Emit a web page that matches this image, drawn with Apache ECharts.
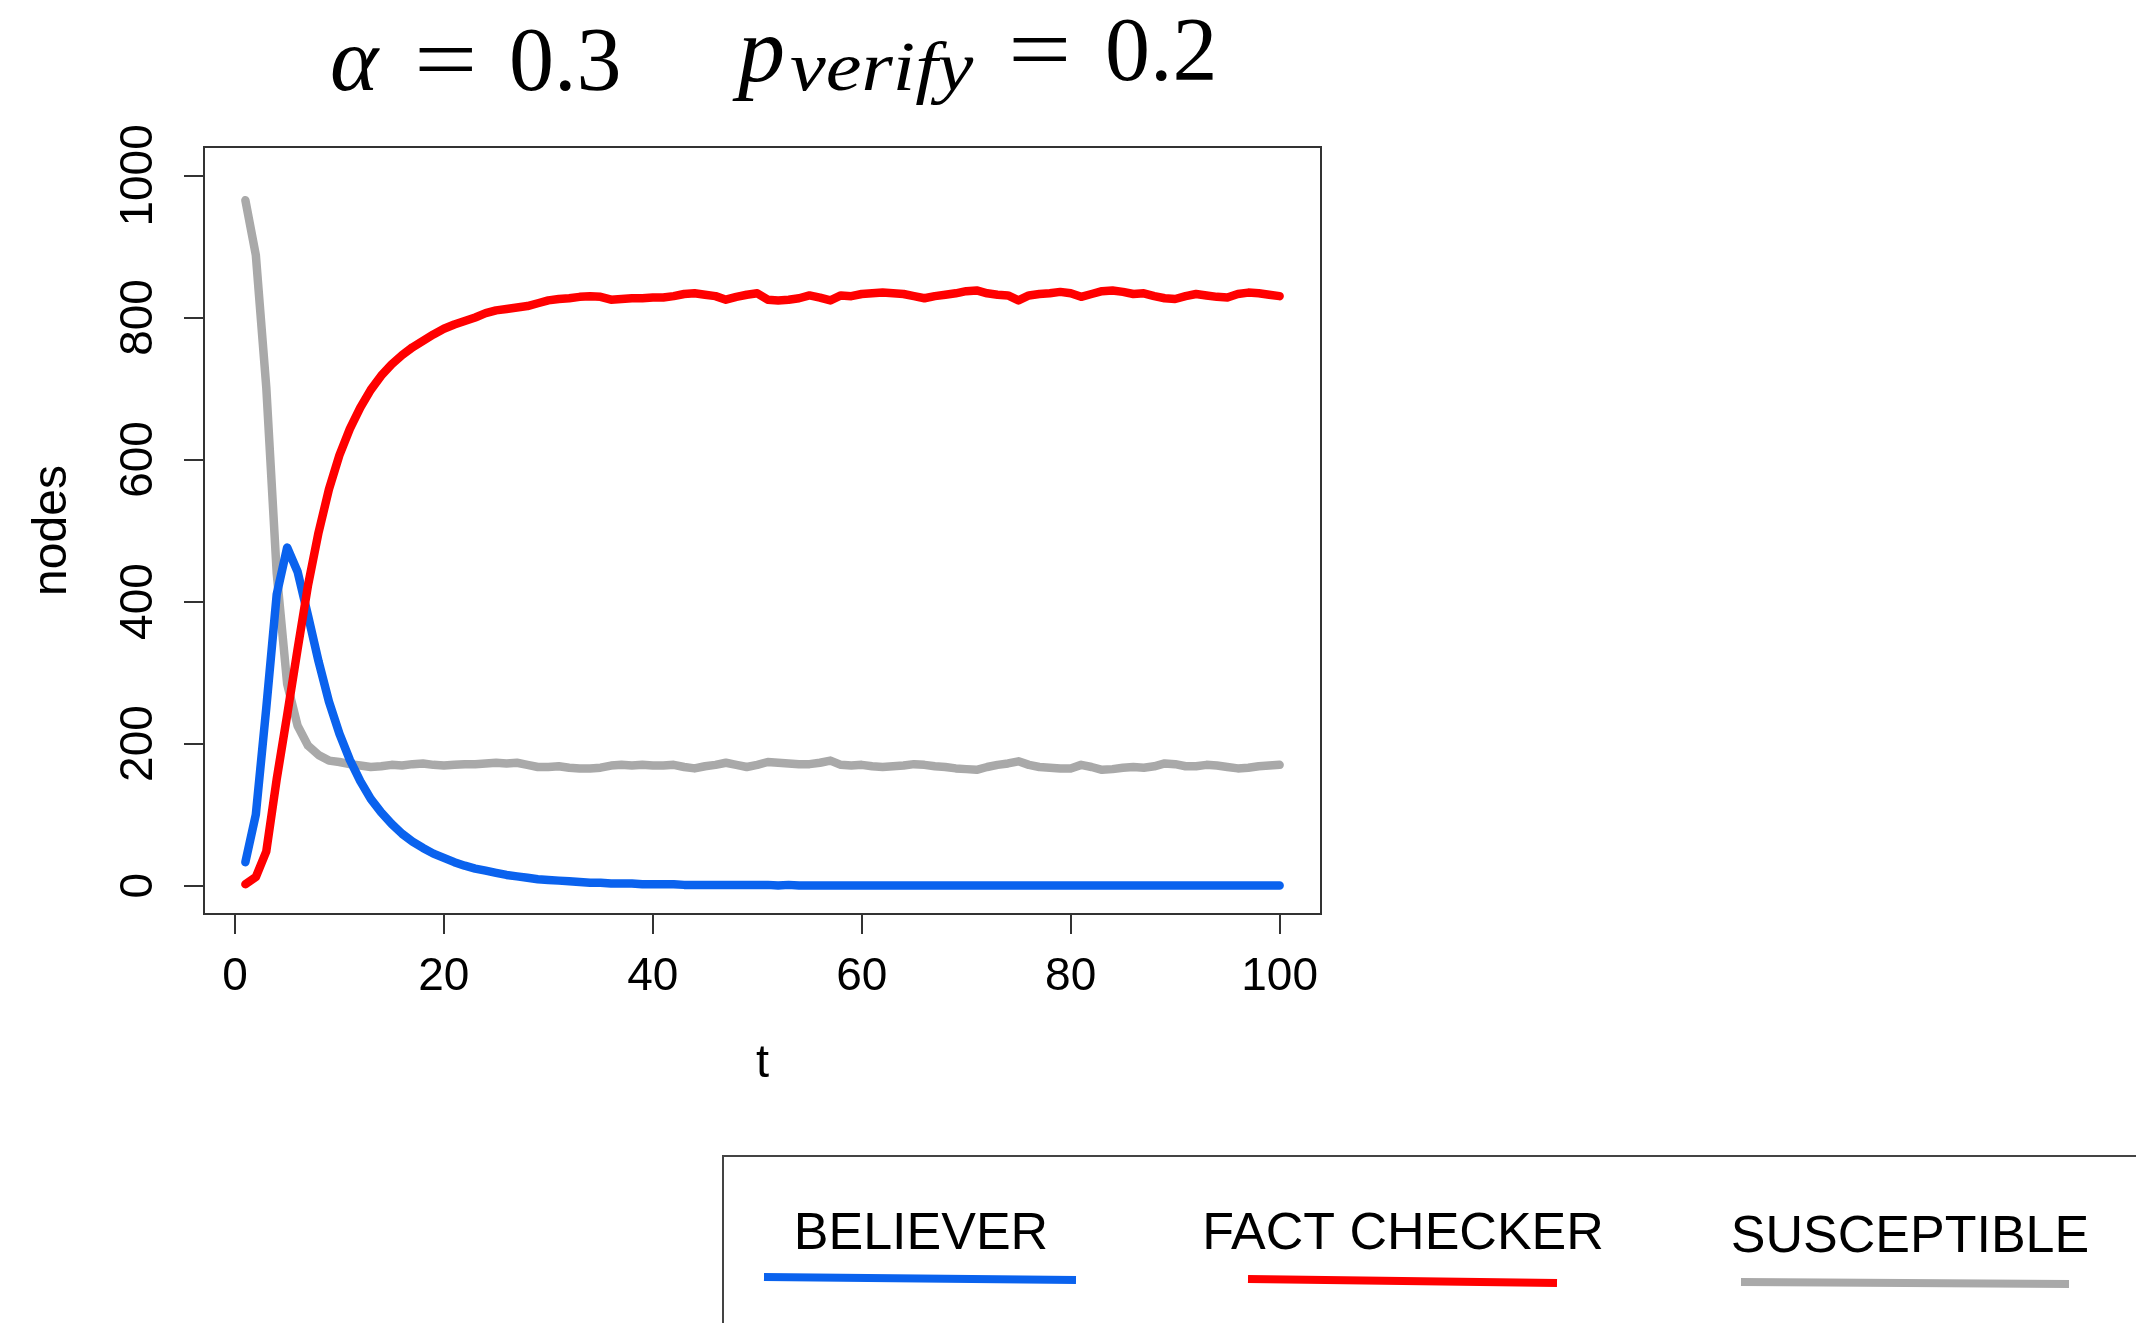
<!DOCTYPE html>
<html>
<head>
<meta charset="utf-8">
<script src="https://cdn.jsdelivr.net/npm/echarts@6/dist/echarts.min.js"></script>
<style>
  html, body { margin: 0; padding: 0; background: #ffffff; }
  #chart { width: 2136px; height: 1323px; }
</style>
</head>
<body>
<div id="chart"></div>
<script>
// time steps
const timeSteps = Array.from({ length: 100 }, (_, i) => i + 1);

// BELIEVER (blue)
const believer = [
  33, 100, 250, 410, 476, 442, 380, 316, 259, 214,
  177, 147, 122, 103, 87, 73, 62, 53, 45, 39,
  33, 28, 24, 21, 18, 15, 13, 11, 9, 8,
  7, 6, 5, 4, 4, 3, 3, 3, 2, 2,
  2, 2, 1, 1, 1, 1, 1, 1, 1, 1,
  1, 0, 1, 0, 0, 0, 0, 0, 0, 0,
  0, 0, 0, 0, 0, 0, 0, 0, 0, 0,
  0, 0, 0, 0, 0, 0, 0, 0, 0, 0,
  0, 0, 0, 0, 0, 0, 0, 0, 0, 0,
  0, 0, 0, 0, 0, 0, 0, 0, 0, 0
];

// FACT CHECKER (red)
const factChecker = [
  2, 12, 48, 150, 240, 333, 423, 497, 558, 606,
  643, 673, 698, 718, 734, 747, 758, 767, 776, 784,
  790, 795, 800, 806, 810, 812, 814, 816, 820, 824,
  826, 827, 829, 830, 829, 825, 826, 827, 827, 828,
  828, 830, 833, 834, 832, 830, 825, 829, 832, 834,
  825, 824, 825, 827, 831, 828, 824, 831, 830, 833,
  834, 835, 834, 833, 830, 827, 830, 832, 834, 837,
  838, 834, 832, 831, 824, 831, 833, 834, 836, 834,
  829, 833, 837, 838, 836, 833, 834, 830, 827, 826,
  830, 833, 831, 829, 828, 833, 835, 834, 832, 830
];

// SUSCEPTIBLE (gray)
const susceptible = [
  965, 888, 702, 440, 284, 225, 197, 184, 176, 174,
  171, 169, 167, 168, 170, 169, 171, 172, 170, 169,
  170, 171, 171, 172, 173, 172, 173, 170, 167, 167,
  168, 166, 165, 165, 166, 169, 170, 169, 170, 169,
  169, 170, 167, 165, 168, 170, 173, 170, 167, 170,
  174, 173, 172, 171, 171, 173, 176, 170, 169, 170,
  168, 167, 168, 169, 171, 170, 168, 167, 165, 164,
  163, 167, 170, 172, 175, 170, 167, 166, 165, 165,
  170, 167, 163, 164, 166, 167, 166, 168, 172, 171,
  168, 168, 170, 169, 167, 165, 166, 168, 169, 170
];

const xTicks = [0, 20, 40, 60, 80, 100];
const yTicks = [0, 200, 400, 600, 800, 1000];
const legendNames = ['BELIEVER', 'FACT CHECKER', 'SUSCEPTIBLE'];

const COLORS = { believer: '#0a62ee', fact: '#ff0000', susc: '#a9a9a9' };
const SANS = "'Liberation Sans', Arial, Helvetica, sans-serif";
const SERIF = "'Liberation Serif', 'Times New Roman', serif";

const chart = echarts.init(document.getElementById('chart'), null, { renderer: 'canvas' });

function pairs(arr) { return timeSteps.map((t, i) => [t, arr[i]]); }

const option = {
  animation: false,
  backgroundColor: '#ffffff',
  grid: {
    left: 204, top: 147, width: 1117, height: 767,
    show: true, borderColor: '#333333', borderWidth: 2,
    backgroundColor: 'transparent',
    containLabel: false, outerBoundsMode: 'none'
  },
  xAxis: {
    type: 'value', min: -2.96, max: 103.96,
    name: 't', nameLocation: 'middle', nameGap: 127,
    nameTextStyle: { fontFamily: SANS, fontSize: 47, color: '#000' },
    axisLine: { show: true, onZero: false, lineStyle: { color: '#333', width: 2 } },
    axisTick: { show: true, inside: false, length: 20, customValues: xTicks, lineStyle: { color: '#333', width: 2 } },
    axisLabel: { show: true, margin: 40, customValues: xTicks, fontFamily: SANS, fontSize: 46, color: '#000',
      showMinLabel: true, showMaxLabel: true, formatter: (v) => String(v) },
    splitLine: { show: false }
  },
  yAxis: {
    type: 'value', min: -40, max: 1040,
    name: 'nodes', nameLocation: 'middle', nameGap: 127, nameRotate: 90,
    nameTextStyle: { fontFamily: SANS, fontSize: 48, color: '#000' },
    axisLine: { show: true, onZero: false, lineStyle: { color: '#333', width: 2 } },
    axisTick: { show: true, inside: false, length: 20, customValues: yTicks, lineStyle: { color: '#333', width: 2 } },
    axisLabel: { show: true, margin: 42, rotate: 90, customValues: yTicks, fontFamily: SANS, fontSize: 46, color: '#000',
      showMinLabel: true, showMaxLabel: true, formatter: (v) => String(v) },
    splitLine: { show: false }
  },
  series: [
    { name: legendNames[2], type: 'line', data: pairs(susceptible), showSymbol: false, symbol: 'none',
      lineStyle: { color: COLORS.susc, width: 8.5, join: 'round', cap: 'round' }, itemStyle: { color: COLORS.susc }, z: 2 },
    { name: legendNames[0], type: 'line', data: pairs(believer), showSymbol: false, symbol: 'none',
      lineStyle: { color: COLORS.believer, width: 8.5, join: 'round', cap: 'round' }, itemStyle: { color: COLORS.believer }, z: 3 },
    { name: legendNames[1], type: 'line', data: pairs(factChecker), showSymbol: false, symbol: 'none',
      lineStyle: { color: COLORS.fact, width: 8.5, join: 'round', cap: 'round' }, itemStyle: { color: COLORS.fact }, z: 4 }
  ],
  graphic: [
    // title pieces
    { type: 'text', x: 330, y: 66, style: { text: 'α', fontFamily: SERIF, fontStyle: 'italic', fontSize: 92, fill: '#000', align: 'left', verticalAlign: 'middle' } },
    { type: 'text', x: 414, y: 66, scaleX: 1.25, style: { text: '=', fontFamily: SERIF, fontSize: 90, fill: '#000', align: 'left', verticalAlign: 'middle' } },
    { type: 'text', x: 509, y: 66, style: { text: '0.3', fontFamily: SERIF, fontSize: 90, fill: '#000', align: 'left', verticalAlign: 'middle' } },
    { type: 'text', x: 738, y: 56, style: { text: 'p', fontFamily: SERIF, fontStyle: 'italic', fontSize: 94, fill: '#000', align: 'left', verticalAlign: 'middle' } },
    { type: 'text', x: 790, y: 72, scaleX: 1.15, style: { text: 'verify', fontFamily: SERIF, fontStyle: 'italic', fontSize: 70, fill: '#000', align: 'left', verticalAlign: 'middle' } },
    { type: 'text', x: 1008, y: 56, scaleX: 1.25, style: { text: '=', fontFamily: SERIF, fontSize: 90, fill: '#000', align: 'left', verticalAlign: 'middle' } },
    { type: 'text', x: 1105, y: 56, style: { text: '0.2', fontFamily: SERIF, fontSize: 90, fill: '#000', align: 'left', verticalAlign: 'middle' } },
    // legend box
    { type: 'rect', shape: { x: 723, y: 1156, width: 1600, height: 400 }, style: { fill: 'none', stroke: '#444', lineWidth: 2 } },
    { type: 'text', x: 921, y: 1235, style: { text: legendNames[0], fontFamily: SANS, fontSize: 52, fill: '#000', align: 'center', verticalAlign: 'middle' } },
    { type: 'text', x: 1403, y: 1235, style: { text: legendNames[1], fontFamily: SANS, fontSize: 52, fill: '#000', align: 'center', verticalAlign: 'middle' } },
    { type: 'text', x: 1910, y: 1238, style: { text: legendNames[2], fontFamily: SANS, fontSize: 52, fill: '#000', align: 'center', verticalAlign: 'middle' } },
    { type: 'line', shape: { x1: 764, y1: 1277, x2: 1076, y2: 1280 }, style: { stroke: COLORS.believer, lineWidth: 8 } },
    { type: 'line', shape: { x1: 1248, y1: 1279, x2: 1557, y2: 1283 }, style: { stroke: COLORS.fact, lineWidth: 8 } },
    { type: 'line', shape: { x1: 1741, y1: 1282, x2: 2069, y2: 1284 }, style: { stroke: COLORS.susc, lineWidth: 8 } }
  ]
};

chart.setOption(option);
</script>
</body>
</html>
